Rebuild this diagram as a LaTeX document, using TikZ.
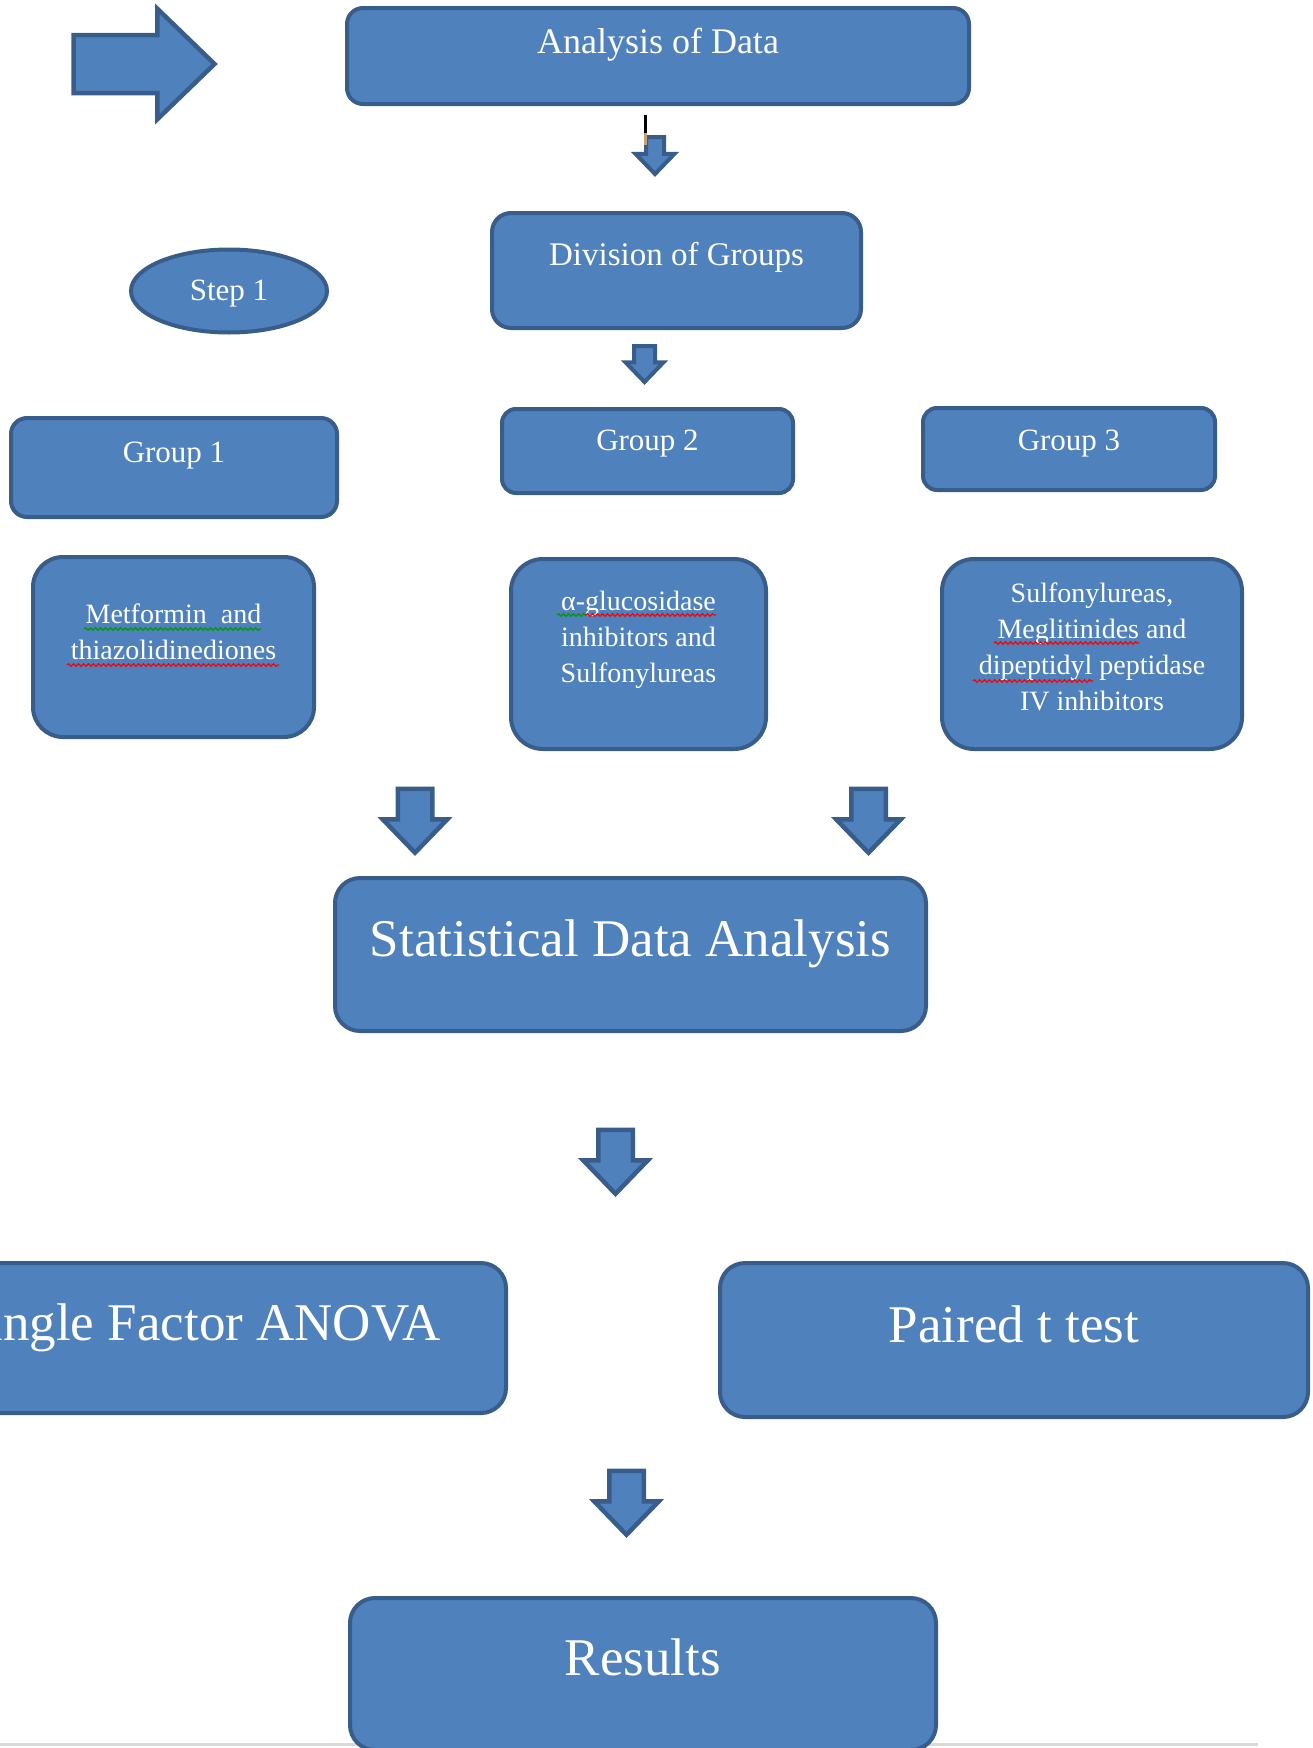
\documentclass[tikz,border=0pt]{standalone}
\usepackage{fontspec}
\setmainfont{Liberation Serif}
\usepackage{tikz}
\usetikzlibrary{shapes.geometric, shapes.arrows}
\usetikzlibrary{decorations.pathmorphing}
\definecolor{boxfill}{HTML}{4F81BD}
\definecolor{boxline}{HTML}{385D8A}
\definecolor{cursortan}{HTML}{C9A274}

\begin{document}
\begin{tikzpicture}[x=1pt, y=-1pt]
        \tikzset{box/.style = {draw=boxline, fill=boxfill, line width=4pt, text=white, inner sep=0pt, rounded corners=#1}, box/.default=16pt}
        \tikzset{blockarrow/.style = {single arrow, draw=boxline, fill=boxfill, line width=4.5pt, inner xsep=0pt, single arrow tip angle=88, anchor=tail}}
        \tikzset{downarrow/.style = {blockarrow, rotate=-90}}
        \tikzset{squiggle/.style = {line width=1.2pt, decorate, decoration={snake, amplitude=1.3pt, segment length=5pt}}}
        \useasboundingbox (0,0) rectangle (1313,1748);
        \clip (0,0) rectangle (1313,1748);

        \coordinate (l) at (0,1744);
        \coordinate (r) at (1258,1744);
        \draw[black!15, line width=3pt] (l) -- (r);

        \node[blockarrow, minimum height=141pt, inner ysep=26.75pt, single arrow head extend=26.25pt] (0) at (71.3,64) {};

        \node[box, minimum width=622pt, minimum height=96pt, text height=45pt, text depth=51pt, font=\fontsize{36}{40}\selectfont] (1) at (658,56) {Analysis of Data};
        \node[box=19pt, minimum width=369pt, minimum height=115pt, text height=52pt, text depth=63pt, font=\fontsize{33}{38}\selectfont] (2) at (676.5,270.5) {Division of Groups};
        \node[ellipse, draw=boxline, fill=boxfill, line width=4pt, text=white, inner sep=0pt, minimum width=196pt, minimum height=83pt, text height=24pt, text depth=6pt, font=\fontsize{31}{36}\selectfont] (3) at (229,291) {Step 1};

        \node[box, minimum width=326pt, minimum height=99pt, text height=44pt, text depth=55pt, font=\fontsize{31}{36}\selectfont] (4) at (174,467.5) {Group 1};
        \node[box=14pt, minimum width=291pt, minimum height=84pt, text height=41pt, text depth=43pt, font=\fontsize{31}{36}\selectfont] (5) at (647.5,451) {Group 2};
        \node[box=14pt, minimum width=292pt, minimum height=82pt, text height=42pt, text depth=40pt, font=\fontsize{31}{36}\selectfont] (6) at (1069,449) {Group 3};

        \node[box=30pt, minimum width=281pt, minimum height=180pt, text height=102pt, text depth=78pt, align=center, font=\fontsize{28}{36}\selectfont] (7) at (173.5,647) {Metformin\ \ and\\thiazolidinediones};
        \node[box=32pt, minimum width=255pt, minimum height=190pt, text height=123pt, text depth=67pt, align=center, font=\fontsize{28}{36}\selectfont] (8) at (638.5,654) {α-glucosidase\\inhibitors and\\Sulfonylureas};
        \node[box=32pt, minimum width=300pt, minimum height=190pt, text height=151pt, text depth=39pt, align=center, font=\fontsize{28}{36}\selectfont] (9) at (1092,654) {Sulfonylureas,\\Meglitinides and\\dipeptidyl peptidase\\IV inhibitors};

        \node[box=25pt, minimum width=591pt, minimum height=153pt, text height=78pt, text depth=75pt, font=\fontsize{53}{60}\selectfont] (10) at (630.5,954.5) {Statistical Data Analysis};
        \node[box=25pt, minimum width=612pt, minimum height=150pt, text height=77pt, text depth=73pt, font=\fontsize{53}{60}\selectfont] (11) at (200,1338) {Single Factor ANOVA};
        \node[box=25pt, minimum width=588pt, minimum height=154pt, text height=79pt, text depth=75pt, font=\fontsize{53}{60}\selectfont] (12) at (1014,1340) {Paired t test};
        \node[box=25pt, minimum width=586pt, minimum height=152pt, text height=77pt, text depth=75pt, font=\fontsize{53}{60}\selectfont] (13) at (643,1674) {Results};

        \node[downarrow, line width=4pt, minimum height=37pt, inner ysep=7pt, single arrow head extend=10.5pt] (a1) at (655,135) {};
        \node[downarrow, line width=4pt, minimum height=36pt, inner ysep=8.5pt, single arrow head extend=8.5pt] (a2) at (644.5,344) {};
        \node[downarrow, minimum height=64pt, inner ysep=15pt, single arrow head extend=15pt] (a3) at (415,786.5) {};
        \node[downarrow, minimum height=64pt, inner ysep=15pt, single arrow head extend=15pt] (a4) at (868.5,786.5) {};
        \node[downarrow, minimum height=64pt, inner ysep=15pt, single arrow head extend=15pt] (a5) at (615.5,1127.5) {};
        \node[downarrow, minimum height=64pt, inner ysep=15pt, single arrow head extend=15pt] (a6) at (626.5,1468.5) {};

        \coordinate (c1) at (645,115);
        \coordinate (c2) at (645,133);
        \coordinate (c3) at (645,145);
        \draw[black, line width=3pt] (c1) -- (c2);
        \draw[cursortan, line width=3pt] (c2) -- (c3);

        % spelling marks
        \foreach \xa/\xb/\y/\c in {84/261/629/green!60!black, 67/279/665/red, 557/586/615/green!60!black, 586/716/615/red, 994/1139/643/red, 973/1093/681/red}
          \draw[squiggle, \c] (\xa,\y) -- (\xb,\y);
      \end{tikzpicture}
\end{document}
